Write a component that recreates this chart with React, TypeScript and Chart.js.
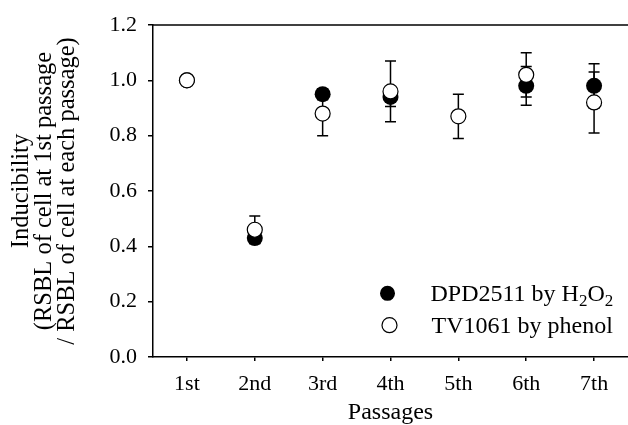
import React, { useEffect, useRef } from 'react';
import { Chart, registerables } from 'chart.js';

Chart.register(...registerables);

// ---- data ----
const passages = ['1st', '2nd', '3rd', '4th', '5th', '6th', '7th'];
const dpdValues: (number | null)[] = [1.0, 0.43, 0.95, 0.94, null, 0.98, 0.98];
const dpdErrors: (number | null)[] = [0, 0.02, 0.02, 0.035, null, 0.07, 0.08];
const tvValues: (number | null)[] = [1.0, 0.46, 0.88, 0.96, 0.87, 1.02, 0.92];
const tvErrors: (number | null)[] = [0, 0.05, 0.08, 0.11, 0.08, 0.08, 0.11];
const yMin = 0;
const yMax = 1.2;
const yStep = 0.2;
const xTitle = 'Passages';
const yTitle = ['Inducibility', '(RSBL of cell at 1st passage', '/ RSBL of cell at each passage)'];

const FONT = '"Liberation Serif", "Times New Roman", serif';

const errorBarPlugin = {
  id: 'errorBars',
  beforeDatasetsDraw(chart: any) {
    const ctx = chart.ctx;
    const yScale = chart.scales.y;
    chart.data.datasets.forEach((ds: any, di: number) => {
      const meta = chart.getDatasetMeta(di);
      const errs = ds.errors as (number | null)[];
      if (!errs) return;
      meta.data.forEach((pt: any, i: number) => {
        const v = ds.data[i];
        const e = errs[i];
        if (v == null || e == null || e === 0) return;
        const x = pt.x;
        const yTop = yScale.getPixelForValue(v + e);
        const yBot = yScale.getPixelForValue(v - e);
        ctx.save();
        ctx.strokeStyle = '#000';
        ctx.lineWidth = 1.5;
        ctx.beginPath();
        ctx.moveTo(x, yTop);
        ctx.lineTo(x, yBot);
        ctx.moveTo(x - 5.5, yTop);
        ctx.lineTo(x + 5.5, yTop);
        ctx.moveTo(x - 5.5, yBot);
        ctx.lineTo(x + 5.5, yBot);
        ctx.stroke();
        ctx.restore();
      });
    });
  },
};

const framePlugin = {
  id: 'frameTop',
  afterDraw(chart: any) {
    const { ctx, chartArea } = chart;
    ctx.save();
    ctx.strokeStyle = '#000';
    ctx.lineWidth = 1.5;
    ctx.beginPath();
    ctx.moveTo(chartArea.left, chartArea.top);
    ctx.lineTo(chartArea.right, chartArea.top);
    ctx.stroke();
    ctx.restore();
  },
};

const legendPlugin = {
  id: 'customLegend',
  afterDraw(chart: any) {
    const { ctx } = chart;
    const xs = chart.scales.x;
    const ys = chart.scales.y;
    const mx = xs.getPixelForValue(3) - 3;
    const tx = mx + 43;
    const y1 = ys.getPixelForValue(0.23);
    const y2 = ys.getPixelForValue(0.115);
    ctx.save();
    // markers
    ctx.beginPath();
    ctx.arc(mx, y1, 7.5, 0, Math.PI * 2);
    ctx.fillStyle = '#000';
    ctx.fill();
    ctx.beginPath();
    ctx.arc(mx + 2, y2, 7.5, 0, Math.PI * 2);
    ctx.fillStyle = '#fff';
    ctx.fill();
    ctx.lineWidth = 1.2;
    ctx.strokeStyle = '#000';
    ctx.stroke();
    // texts
    ctx.fillStyle = '#000';
    ctx.textBaseline = 'alphabetic';
    ctx.textAlign = 'left';
    const big = `24px ${FONT}`;
    const small = `17px ${FONT}`;
    const base1 = y1 + 7.5;
    let x = tx;
    const parts: [string, boolean][] = [['DPD2511 by H', false], ['2', true], ['O', false], ['2', true]];
    parts.forEach(([t, sub]) => {
      ctx.font = sub ? small : big;
      ctx.fillText(t, x, sub ? base1 + 5 : base1);
      x += ctx.measureText(t).width;
    });
    ctx.font = big;
    ctx.fillText('TV1061 by phenol', tx + 1, y2 + 7.5);
    ctx.restore();
  },
};

export default function App() {
  const canvasRef = useRef<HTMLCanvasElement | null>(null);

  useEffect(() => {
    document.body.style.margin = '0';
    const canvas = canvasRef.current;
    if (!canvas) return;
    const chart = new Chart(canvas, {
      type: 'line',
      data: {
        labels: passages,
        datasets: [
          {
            label: 'TV1061 by phenol',
            data: tvValues,
            errors: tvErrors,
            showLine: false,
            pointStyle: 'circle',
            pointRadius: 7.5,
            pointHoverRadius: 7.5,
            pointBackgroundColor: '#fff',
            pointBorderColor: '#000',
            pointBorderWidth: 1.2,
          } as any,
          {
            label: 'DPD2511 by H2O2',
            data: dpdValues,
            errors: dpdErrors,
            showLine: false,
            pointStyle: 'circle',
            pointRadius: 8,
            pointHoverRadius: 8,
            pointBackgroundColor: '#000',
            pointBorderColor: '#000',
            pointBorderWidth: 0,
          } as any,
        ],
      },
      options: {
        animation: false,
        responsive: false,
        maintainAspectRatio: false,
        events: [],
        layout: { autoPadding: false, padding: { top: 25, left: 0, right: 0, bottom: 0 } },
        plugins: {
          legend: { display: false },
          tooltip: { enabled: false },
        },
        scales: {
          x: {
            type: 'category',
            offset: true,
            grid: {
              display: true,
              offset: false,
              drawOnChartArea: false,
              drawTicks: true,
              tickLength: 4,
              color: '#000',
              lineWidth: 1.5,
            },
            border: { display: true, color: '#000', width: 1.5 },
            ticks: {
              color: '#000',
              font: { family: FONT, size: 22 },
              padding: 10,
              maxRotation: 0,
              autoSkip: false,
            },
            title: {
              display: true,
              text: xTitle,
              color: '#000',
              font: { family: FONT, size: 24, lineHeight: 1.0 },
              padding: { top: 0, bottom: 0 },
            },
            afterFit(scale: any) {
              scale.height = 68;
              scale.paddingLeft = 0;
              scale.paddingRight = 0;
            },
          },
          y: {
            type: 'linear',
            min: yMin,
            max: yMax,
            ticks: {
              stepSize: yStep,
              color: '#000',
              font: { family: FONT, size: 22 },
              padding: 11,
              callback: (v: any) => Number(v).toFixed(1),
            },
            grid: {
              display: true,
              drawOnChartArea: false,
              drawTicks: true,
              tickLength: 5,
              color: '#000',
              lineWidth: 1.5,
            },
            border: { display: true, color: '#000', width: 1.5 },
            title: {
              display: true,
              text: yTitle,
              color: '#000',
              font: { family: FONT, size: 24.5, lineHeight: '23px' as any },
              padding: { top: 10, bottom: 0 },
            },
            afterFit(scale: any) {
              scale.width = 153;
              scale.paddingTop = 0;
              scale.paddingBottom = 0;
            },
          },
        },
      } as any,
      plugins: [errorBarPlugin, framePlugin, legendPlugin],
    });
    return () => chart.destroy();
  }, []);

  return (
    <div style={{ position: 'absolute', left: 0, top: 0, width: 628, height: 425 }}>
      <canvas ref={canvasRef} width={628} height={425} style={{ width: 628, height: 425 }} />
    </div>
  );
}
